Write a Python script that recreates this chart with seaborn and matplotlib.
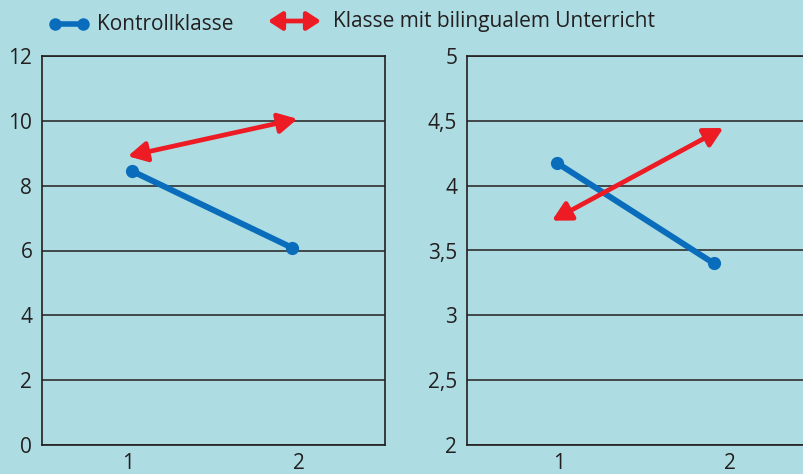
import matplotlib
matplotlib.use("Agg")
import matplotlib.pyplot as plt
import seaborn as sns
import pandas as pd
from matplotlib.lines import Line2D
from matplotlib.ticker import FixedLocator

# data (points sit slightly off the tick positions)
kontroll_left_x = [1.025, 1.96]
kontroll_left_y = [8.45, 6.08]
bilingual_left_x = [1.0, 1.99]
bilingual_left_y = [8.91, 10.06]

kontroll_right_x = [0.99, 1.905]
kontroll_right_y = [4.175, 3.40]
bilingual_right_x = [0.96, 1.96]
bilingual_right_y = [3.73, 4.445]

x_ticks = [1, 2]
x_labels = ["1", "2"]
left_ticks = [0, 2, 4, 6, 8, 10, 12]
left_labels = ["0", "2", "4", "6", "8", "10", "12"]
right_ticks = [2, 2.5, 3, 3.5, 4, 4.5, 5]
right_labels = ["2", "2,5", "3", "3,5", "4", "4,5", "5"]

legend_labels = ["Kontrollklasse", "Klasse mit bilingualem Unterricht"]

BG = "#addde3"
BLUE = "#0a6dbb"
RED = "#ed1c24"
INK = "#231f20"
ARROW = "<|-|>,head_length=0.75,head_width=0.4"

sns.set_style("white")
plt.rcParams["font.family"] = ["Open Sans", "DejaVu Sans"]

fig = plt.figure(figsize=(8.04, 4.74), dpi=100, facecolor=BG)
W, H = 804, 474


def make_ax(x0, xlim, ticks, labels, ylim, kx, ky, bx, by):
    ax = fig.add_axes([x0 / W, (H - 445) / H, 343 / W, 389 / H])
    ax.set_facecolor(BG)
    df = pd.DataFrame({"x": kx, "y": ky})
    sns.lineplot(data=df, x="x", y="y", ax=ax, color=BLUE, linewidth=4.3,
                 marker="o", markersize=9.5, markeredgewidth=0, zorder=3)
    ax.annotate("", xy=(bx[1], by[1]), xytext=(bx[0], by[0]),
                arrowprops=dict(arrowstyle=ARROW, mutation_scale=15,
                                color=RED, lw=3.4, shrinkA=0, shrinkB=0),
                zorder=4)
    ax.set_xlim(*xlim)
    ax.set_ylim(*ylim)
    ax.set_yticks(ticks)
    ax.set_yticklabels(labels)
    ax.set_xticks(x_ticks)
    ax.set_xticklabels(x_labels)
    ax.xaxis.set_minor_locator(FixedLocator([1.5]))
    ax.tick_params(axis="x", which="major", length=0, pad=6, labelsize=15, colors=INK)
    ax.tick_params(axis="x", which="minor", length=7.5, width=1.2, color=INK, direction="out")
    ax.tick_params(axis="y", length=3, width=1, pad=4, labelsize=15, colors=INK, direction="out")
    ax.grid(axis="y", color=INK, linewidth=1.1)
    ax.set_axisbelow(True)
    for s in ax.spines.values():
        s.set_color(INK)
        s.set_linewidth(1.2)
    ax.set_xlabel("")
    ax.set_ylabel("")
    return ax


ax_left = make_ax(42, (0.5, 2.5), left_ticks, left_labels, (0, 12),
                  kontroll_left_x, kontroll_left_y, bilingual_left_x, bilingual_left_y)
make_ax(467, (0.465, 2.465), right_ticks, right_labels, (2, 5),
        kontroll_right_x, kontroll_right_y, bilingual_right_x, bilingual_right_y)

# legend drawn at the top of the figure
fig.add_artist(Line2D([55 / W, 83 / W], [1 - 24 / H, 1 - 24 / H], color=BLUE,
                      linewidth=4.0, marker="o", markersize=9, markeredgewidth=0,
                      transform=fig.transFigure))
fig.text(97 / W, 1 - 24 / H, legend_labels[0], fontsize=15, color=INK, va="center")
ax_left.annotate("", xy=(321 / W, 1 - 21 / H), xytext=(268 / W, 1 - 21 / H),
                 xycoords="figure fraction", textcoords="figure fraction",
                 annotation_clip=False,
                 arrowprops=dict(arrowstyle="<|-|>,head_length=0.55,head_width=0.36",
                                 mutation_scale=15, color=RED, lw=3.4,
                                 shrinkA=0, shrinkB=0))
fig.text(333 / W, 1 - 21 / H, legend_labels[1], fontsize=15, color=INK, va="center")

fig.savefig("out.png", dpi=100, facecolor=BG)
